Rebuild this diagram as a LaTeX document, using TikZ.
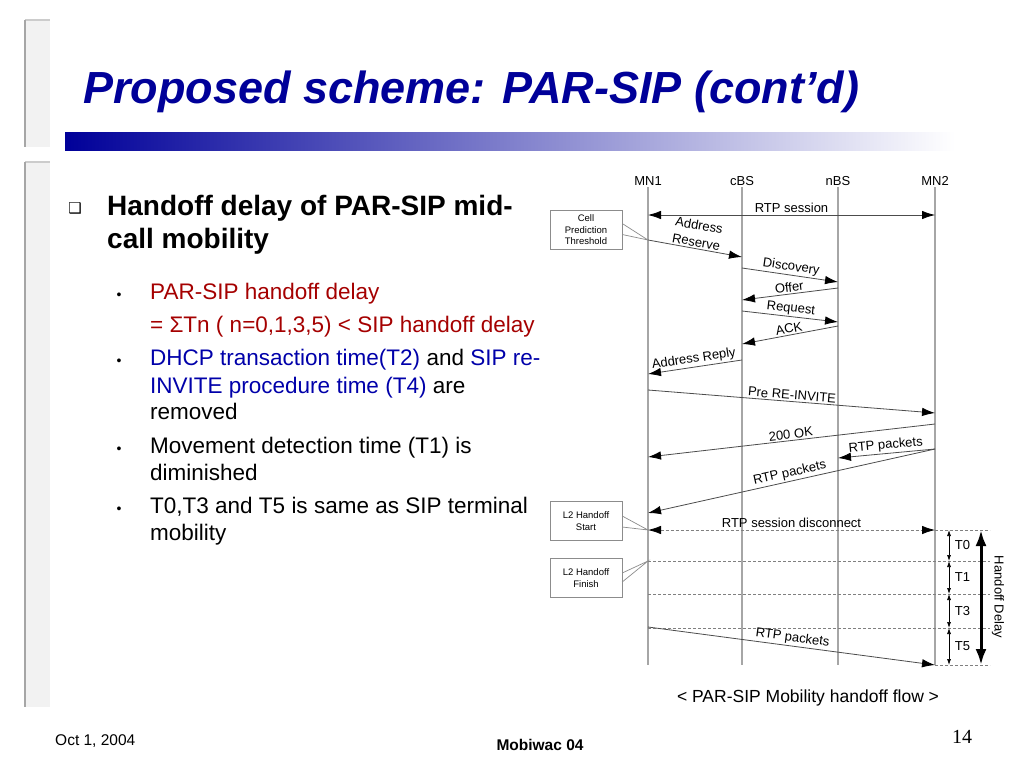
\documentclass[tikz,border=0pt]{standalone}
\usepackage{fontspec}
\setmainfont{Liberation Sans}
\newfontfamily\pagenumfont{Liberation Serif}
\newfontfamily\boxsymfont{DejaVu Sans}
\usetikzlibrary{arrows.meta}
\definecolor{titleblue}{RGB}{0,0,153}
\definecolor{itemred}{RGB}{165,0,0}
\definecolor{itemblue}{RGB}{0,0,170}
\definecolor{barfill}{RGB}{242,242,242}
\newcommand{\fsz}[2]{\fontsize{#1}{#2}\selectfont}

\begin{document}
\begin{tikzpicture}
        [x=1pt, y=-1pt,
        tip/.tip={Latex[length=13pt,width=8.5pt,color=black]},
        lifeline/.style={draw=black!35, line width=1.3pt},
        msg/.style={draw=black!70, line width=0.8pt, -tip},
        twoway/.style={msg, tip-tip},
        sep/.style={draw=black!50, line width=0.8pt, dash pattern=on 3pt off 2pt},
        note/.style={draw=black!45, fill=white, align=center, minimum width=72pt, minimum height=39pt, inner sep=1pt, font=\fsz{9.5}{11.5}},
        callout/.style={draw=black!45, line width=0.7pt},
        lbl/.style={font=\fsz{13}{15}, inner sep=1.5pt},
        tarrow/.style={line width=0.7pt, {Latex[length=6pt,width=4pt]}-{Latex[length=6pt,width=4pt]}},
        hdarrow/.style={line width=3pt, {Latex[length=16pt,width=11pt]}-{Latex[length=16pt,width=11pt]}},
        item/.style={anchor=base west, inner sep=0pt, font=\fsz{22.5}{27}},
        dot/.style={anchor=base, inner sep=0pt, font=\fsz{14}{14}}]

        \fill[white] (0,0) rectangle (1024,768);
        \useasboundingbox (0,0) rectangle (1024,768);

        % side bars
        \fill[barfill] (25,20) rectangle (50,147);
        \fill[barfill] (25,162) rectangle (50,707);
        \draw[black!20, line width=1.5pt] (25,20) -- (50,20);
        \draw[black!20, line width=1.5pt] (25,162) -- (50,162);
        \draw[black!35, line width=1.5pt] (25,20) -- (25,147);
        \draw[black!35, line width=1.5pt] (25,162) -- (25,707);

        % title
        \node[anchor=base west, inner sep=0pt, text=titleblue, font=\fsz{45}{48}\bfseries\itshape] (title) at (83,103) {Proposed scheme: PAR-SIP (cont'd)};
        \shade[left color=titleblue, middle color=titleblue!30, right color=white] (65,132) rectangle (955,150);

        % text on the left
        \node[anchor=base, inner sep=0pt, font=\boxsymfont\fsz{15}{15}] (sq) at (75,213) {❑};
        \node[anchor=base west, inner sep=0pt, font=\fsz{28}{33}\bfseries] (head1) at (107,215) {Handoff delay of PAR-SIP mid-};
        \node[anchor=base west, inner sep=0pt, font=\fsz{28}{33}\bfseries] (head2) at (107,248) {call mobility};

        \foreach \y/\n in {299/1, 365/2, 453/3, 513/4}
            \node[dot] (dot\n) at (119,\y) {•};

        \node[item, text=itemred] (par1) at (150,299) {PAR-SIP handoff delay};
        \node[item, text=itemred] (par2) at (150,332) {= ΣTn ( n=0,1,3,5) < SIP handoff delay};
        \node[item] (dhcp1) at (150,365) {\textcolor{itemblue}{DHCP transaction time(T2)} and \textcolor{itemblue}{SIP re-}};
        \node[item] (dhcp2) at (150,393) {\textcolor{itemblue}{INVITE procedure time (T4)} are};
        \node[item] (dhcp3) at (150,419) {removed};
        \node[item] (move1) at (150,453) {Movement detection time (T1) is};
        \node[item] (move2) at (150,480) {diminished};
        \node[item] (same1) at (150,513) {T0,T3 and T5 is same as SIP terminal};
        \node[item] (same2) at (150,540) {mobility};

        % lifelines
        \node[lbl] (mn1) at (648,181) {MN1};
        \node[lbl] (cbs) at (742,181) {cBS};
        \node[lbl] (nbs) at (838,181) {nBS};
        \node[lbl] (mn2) at (935,181) {MN2};
        \coordinate (mn1-end) at (648,665);
        \coordinate (cbs-end) at (742,665);
        \coordinate (nbs-end) at (838,665);
        \coordinate (mn2-end) at (935,665);
        \foreach \n in {mn1, cbs, nbs, mn2}
            \draw[lifeline] (\n.south) -- (\n-end);

        % message ends
        \coordinate (rsA) at (648,215);  \coordinate (rsB) at (935,215);
        \coordinate (arA) at (648,240);  \coordinate (arB) at (742,257);
        \coordinate (dcA) at (742,268);  \coordinate (dcB) at (838,282);
        \coordinate (ofA) at (838,288);  \coordinate (ofB) at (742,300);
        \coordinate (rqA) at (742,311);  \coordinate (rqB) at (838,322);
        \coordinate (akA) at (838,326);  \coordinate (akB) at (742,344);
        \coordinate (apA) at (742,360);  \coordinate (apB) at (648,374);
        \coordinate (piA) at (648,390);  \coordinate (piB) at (935,413);
        \coordinate (okA) at (935,424);  \coordinate (okB) at (648,457);
        \coordinate (rtA) at (935,449);  \coordinate (rtB) at (838,458);
        \coordinate (rtC) at (648,513);
        \coordinate (sdA) at (648,530);  \coordinate (sdB) at (935,530);
        \coordinate (fpA) at (648,627);  \coordinate (fpB) at (935,665);

        % messages before the handoff
        \draw[twoway] (rsA) -- (rsB) node[lbl, midway, above] (rslab) {RTP session};
        \draw[msg] (arA) -- (arB) node[lbl, midway, above, sloped, align=center, font=\fsz{13}{17}] (arlab) {Address\\Reserve};
        \draw[msg] (dcA) -- (dcB) node[lbl, midway, above, sloped] (dclab) {Discovery};
        \draw[msg] (ofA) -- (ofB) node[lbl, midway, above, sloped] (oflab) {Offer};
        \draw[msg] (rqA) -- (rqB) node[lbl, midway, above, sloped] (rqlab) {Request};
        \draw[msg] (akA) -- (akB) node[lbl, midway, above, sloped] (aklab) {ACK};
        \draw[msg] (apA) -- (apB) node[lbl, midway, above, sloped] (aplab) {Address Reply};
        \draw[msg] (piA) -- (piB) node[lbl, midway, above, sloped] (pilab) {Pre RE-INVITE};
        \draw[msg] (okA) -- (okB) node[lbl, midway, above, sloped] (oklab) {200 OK};
        \draw[msg] (rtA) -- (rtB) node[lbl, midway, above, sloped] (rtlab1) {RTP packets};
        \draw[msg] (rtA) -- (rtC) node[lbl, midway, above, sloped] (rtlab2) {RTP packets};

        % handoff phase (dashed)
        \coordinate (sepR0) at (990,530);
        \foreach \i/\y in {1/561, 2/594, 3/628} {
            \coordinate (sepL\i) at (648,\y);
            \coordinate (sepR\i) at (990,\y);
            \draw[sep] (sepL\i) -- (sepR\i);
        }
        \coordinate (sepR4) at (990,665);
        \draw[sep, tip-tip] (sdA) -- (sdB) node[lbl, midway, above] (sdlab) {RTP session disconnect};
        \draw[sep] (sdB) -- (sepR0);
        \draw[sep] (fpB) -- (sepR4);
        \draw[msg] (fpA) -- (fpB) node[lbl, midway, above, sloped] (fplab) {RTP packets};

        % notes
        \node[note] (cpt) at (586,230) {Cell\\Prediction\\Threshold};
        \draw[callout] ([yshift=6.5pt]cpt.east) -- (arA) -- ([yshift=-4.5pt]cpt.east);
        \node[note] (l2s) at (586,521) {L2 Handoff\\Start};
        \draw[callout] ([yshift=5pt]l2s.east) -- (sdA) -- ([yshift=-6pt]l2s.east);
        \node[note] (l2f) at (586,578) {L2 Handoff\\Finish};
        \draw[callout] ([yshift=5pt]l2f.east) -- (sepL1) -- ([yshift=-4pt]l2f.east);

        % delay components
        \foreach \i/\y in {0/530, 1/561, 2/594, 3/628, 4/665}
            \coordinate (ta\i) at (949,\y);
        \foreach \a/\b/\t in {ta0/ta1/T0, ta1/ta2/T1, ta2/ta3/T3, ta3/ta4/T5}
            \draw[tarrow] (\a) -- (\b) node[lbl, midway, right=4pt] (lab\t) {\t};
        \coordinate (hdA) at (981,530);
        \coordinate (hdB) at (981,665);
        \draw[hdarrow] (hdA) -- (hdB);
        \node[lbl, rotate=-90] (hdlab) at (998,597) {Handoff Delay};

        % caption and footer
        \node[font=\fsz{17.5}{18}] (caption) at (808,698) {< PAR-SIP Mobility handoff flow >};
        \node[anchor=base west, inner sep=0pt, font=\fsz{15.5}{16}] (date) at (55,745) {Oct 1, 2004};
        \node[anchor=base, inner sep=0pt, font=\fsz{15.5}{16}\bfseries] (conf) at (540,750) {Mobiwac 04};
        \node[anchor=base, inner sep=0pt, font=\pagenumfont\fsz{20}{20}] (page) at (962,743) {14};

    \end{tikzpicture}
\end{document}
